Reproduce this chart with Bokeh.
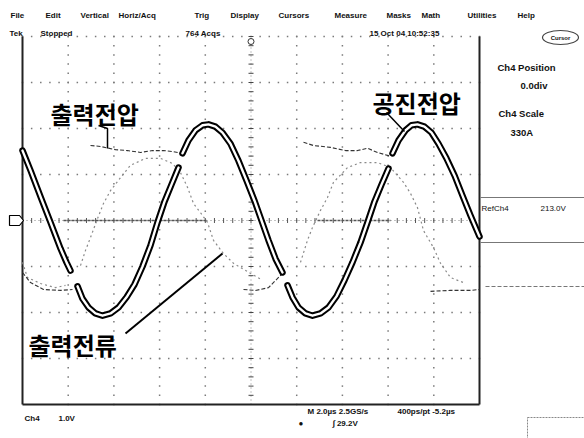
from bokeh.plotting import figure
from bokeh.models import Range1d, ColumnDataSource
from bokeh.core.properties import value
from bokeh.embed import file_html
from bokeh.resources import INLINE

nan = float("nan")

# ---------------- data (graticule divisions) ----------------
grid_x = [0, 1, 2, 3, 4, 5, 6, 7, 8, 9, 10]
grid_y = [-4, -3, -2, -1, 0, 1, 2, 3, 4]

# resonant voltage (공진전압), time in div, level in div (NaN = trace break)
res_t = [0.000, 0.175, 0.394, 0.613, 0.832, 0.963, 1.050, nan,
         1.204, 1.313, 1.444, 1.597, 1.751, 1.926, 2.101, 2.276, 2.451, 2.626, 2.801, 2.954, 3.107, 3.260, 3.414, nan,
         3.501, 3.632, 3.786, 3.939, 4.070, 4.223, 4.376, 4.551, 4.726, 4.902, 5.077, 5.230, 5.383, 5.536, 5.689, nan,
         5.799, 5.908, 6.039, 6.193, 6.346, 6.521, 6.696, 6.871, 7.046, 7.221, 7.396, 7.549, 7.702, 7.856, 8.009, nan,
         8.096, 8.228, 8.381, 8.512, 8.643, 8.796, 8.950, 9.103, 9.278, 9.453, 9.628, 9.803, 10.000]
res_v = [1.52, 1.09, 0.52, -0.04, -0.61, -0.91, -1.09, nan,
         -1.43, -1.70, -1.89, -2.02, -2.07, -2.02, -1.89, -1.67, -1.39, -1.00, -0.54, -0.04, 0.41, 0.78, 1.15, nan,
         1.46, 1.74, 1.96, 2.07, 2.09, 2.04, 1.91, 1.67, 1.30, 0.87, 0.43, 0.00, -0.43, -0.83, -1.13, nan,
         -1.41, -1.67, -1.89, -2.02, -2.07, -2.02, -1.89, -1.65, -1.30, -0.91, -0.48, -0.04, 0.41, 0.78, 1.13, nan,
         1.46, 1.74, 1.96, 2.07, 2.09, 2.04, 1.91, 1.67, 1.35, 0.98, 0.54, 0.11, -0.35]

# output voltage (출력전압)
vout_t = [0.000, 0.175, 0.460, 0.832, 1.094, nan,
          1.488, 1.707, 2.035, 2.298, 2.582, 2.845, 3.085, 3.282, 3.479, nan,
          4.836, 5.098, 5.383, 5.689, nan,
          6.149, 6.368, 6.740, 7.068, 7.330, 7.549, 7.768, 8.009, 8.096, nan,
          8.928, 9.365, 9.803, 10.000]
vout_v = [-1.13, -1.35, -1.50, -1.52, -1.50, nan,
          1.63, 1.61, 1.54, 1.52, 1.48, 1.52, 1.52, 1.50, 1.46, nan,
          -1.50, -1.52, -1.46, -1.15, nan,
          1.70, 1.63, 1.59, 1.52, 1.52, 1.57, 1.48, 1.41, 1.41, nan,
          -1.54, -1.52, -1.52, -1.50]

# output current (출력전류)
iout_t = [0.000, 0.109, 0.394, 0.722, 0.941, nan,
          1.269, 1.379, 1.488, 1.641, 1.772, 1.926, 2.144, 2.363, 2.691, 3.020, 3.282, 3.457, 3.611, 3.742,
          3.895, 4.048, 4.179, 4.398, 4.617, 4.989, 5.252, nan,
          6.083, 6.236, 6.346, 6.521, 6.674, 6.805, 7.112, 7.396, 7.768, 8.053, 8.337, 8.490, 8.643, 8.775,
          8.993, 9.147, 9.365, 9.650]
iout_v = [-0.91, -1.24, -1.37, -1.46, -1.41, nan,
          -0.98, -0.65, -0.37, 0.04, 0.37, 0.65, 0.93, 1.20, 1.35, 1.35, 1.24, 1.04, 0.72, 0.37,
          0.17, -0.04, -0.43, -0.72, -0.93, -1.15, -1.30, nan,
          -0.91, -0.43, -0.15, 0.22, 0.50, 0.83, 1.15, 1.26, 1.26, 1.15, 0.83, 0.59, 0.28, -0.22,
          -0.59, -0.93, -1.24, -1.35]

# reference (zero) trace segments
zero_t = [0.897, 4.048, nan, 6.455, 8.053]
zero_v = [0.0, 0.0, nan, 0.0, 0.0]

# texts
menu_labels = ["File", "Edit", "Vertical", "Horiz/Acq", "Trig", "Display", "Cursors",
               "Measure", "Masks", "Math", "Utilities", "Help"]
status_labels = ["Tek", "Stopped", "764 Acqs", "15 Oct 04 10:52:35"]
panel_labels = ["Ch4 Position", "0.0div", "Ch4 Scale", "330A"]
ref_labels = ["RefCh4", "213.0V"]
bottom_labels = ["Ch4", "1.0V", "M 2.0\u00b5s 2.5GS/s", "400ps/pt -5.2\u00b5s", "\u25cf", "\u222b 29.2V"]
korean_labels = ["출력전압", "공진전압", "출력전류"]

# ---------------- layout (page pixels -> divisions) ----------------
FX0, FX1 = 22.0, 479.0   # graticule left/right (page px)
FYC, DY = 220.0, 46.0    # zero level and px per division
DX = (FX1 - FX0) / 10.0


def px2x(px):
    return (px - FX0) / DX


def py2y(py):
    return (FYC - py) / DY


W, H = 584, 438
p = figure(width=W, height=H, output_backend="svg", toolbar_location=None,
           x_range=Range1d(px2x(0), px2x(W)), y_range=Range1d(py2y(H), py2y(0)),
           x_axis_location=None, y_axis_location=None, min_border=0,
           background_fill_color="white", border_fill_color="white", outline_line_color=None)
p.grid.visible = False

# graticule dots
dx, dy = [], []
for gx in grid_x[1:-1]:
    if gx == 5:
        continue
    for j in range(-20, 21):
        dx.append(gx); dy.append(j / 5)
for gy in grid_y[1:]:
    if gy == 0:
        continue
    for j in range(0, 51):
        dx.append(j / 5); dy.append(gy)
p.scatter(dx, dy, marker="square", size=1.5, color="#7a7a7a", line_color=None)

# centre cross with minor ticks
p.line([5, 5], [grid_y[0], grid_y[-1]], line_color="#888", line_width=1, line_dash="1 3")
p.line([grid_x[0], grid_x[-1]], [0, 0], line_color="#888", line_width=1, line_dash="1 3")
cy = [j / 5 for j in range(-20, 21)]
p.scatter([5] * len(cy), cy, marker="dash", size=5, line_color="#444", line_width=1)
cx = [j / 5 for j in range(0, 51)]
p.scatter(cx, [0] * len(cx), marker="dash", angle=1.5708, size=5, line_color="#555", line_width=1)

# frame
p.line([grid_x[0], grid_x[0]], [grid_y[0], grid_y[-1]], line_color="#222", line_width=2)
p.line([grid_x[-1], grid_x[-1]], [grid_y[0], grid_y[-1]], line_color="#222", line_width=2)
p.line([grid_x[0], grid_x[-1]], [grid_y[0], grid_y[0]], line_color="#222", line_width=2.2)

# traces
p.line(zero_t, zero_v, line_color="#555", line_width=1.6, line_dash="3 1")
p.line(iout_t, iout_v, line_color="#8a8a8a", line_width=1.2, line_dash="2 3")
p.line(vout_t, vout_v, line_color="#333", line_width=1.1, line_dash="4 2")
p.line(res_t, res_v, line_color="black", line_width=6.5, line_join="round", line_cap="round")
p.line(res_t, res_v, line_color="white", line_width=2.4, line_join="round", line_cap="round")

# channel ground marker (left) and trigger marker (top)
mk_px = [9, 19, 23, 19, 9]
mk_py = [215, 215, 220, 225, 225]
p.patch([px2x(v) for v in mk_px], [py2y(v) for v in mk_py], fill_color="white",
        line_color="black", line_width=1.2)
p.scatter([5], [py2y(41)], marker="circle", size=6, fill_color="white", line_color="#333", line_width=1)

# pointer lines for Korean labels
p.line([px2x(v) for v in [98, 107, 107]], [py2y(v) for v in [125, 128, 148]], line_color="black", line_width=1.5)
p.line([px2x(v) for v in [386, 404]], [py2y(v) for v in [112, 131]], line_color="black", line_width=1.5)
p.line([px2x(v) for v in [125, 222]], [py2y(v) for v in [333, 253]], line_color="black", line_width=2)

# right panel separator lines
p.line([px2x(480), px2x(590)], [py2y(197), py2y(197)], line_color="#777", line_width=1)
p.line([px2x(480), px2x(590)], [py2y(242), py2y(242)], line_color="#777", line_width=1)
p.line([px2x(485), px2x(590)], [py2y(286), py2y(286)], line_color="#777", line_width=1, line_dash="4 2")

# bottom-right box and top-right button
p.quad(left=[px2x(527)], right=[px2x(590)], bottom=[py2y(440)], top=[py2y(417)],
       fill_color=None, line_color="#888", line_dash="2 1")
p.ellipse(x=[px2x(560)], y=[py2y(37)], width=[36 / DX], height=[14 / DY], fill_color="white",
          line_color="#444", line_width=1.2)


def add_text(labels, xs_px, ys_px, size, bold=False, font="Liberation Sans", color="#111", align="left"):
    src = ColumnDataSource(dict(x=[px2x(v) for v in xs_px], y=[py2y(v) for v in ys_px], t=labels))
    p.text(x="x", y="y", text="t", source=src, text_font=value(font), text_font_size=value(size),
           text_font_style="bold" if bold else "normal", text_color=color,
           text_align=align, text_baseline="middle")


add_text(menu_labels, [10, 45, 80, 118, 194, 230, 278, 334, 386, 421, 467, 517],
         [15] * 12, "8px", bold=True)
add_text(status_labels, [9, 40, 185, 369], [33] * 4, "8px", bold=True)
add_text(["Cursor"], [560], [37], "6px", bold=True, align="center")
add_text(panel_labels, [497, 520, 498, 510], [67, 85, 113, 132], "9.5px", bold=True)
add_text(ref_labels, [481, 540], [208, 208], "8px")
add_text(bottom_labels, [24, 58, 307, 397, 298, 332], [418, 418, 411, 411, 423, 423], "8px", bold=True)
add_text(korean_labels, [50, 372, 28], [113, 102, 344], "24px", bold=True, font="Noto Sans CJK KR",
         color="black")

open("out.html", "w").write(file_html(p, INLINE))
